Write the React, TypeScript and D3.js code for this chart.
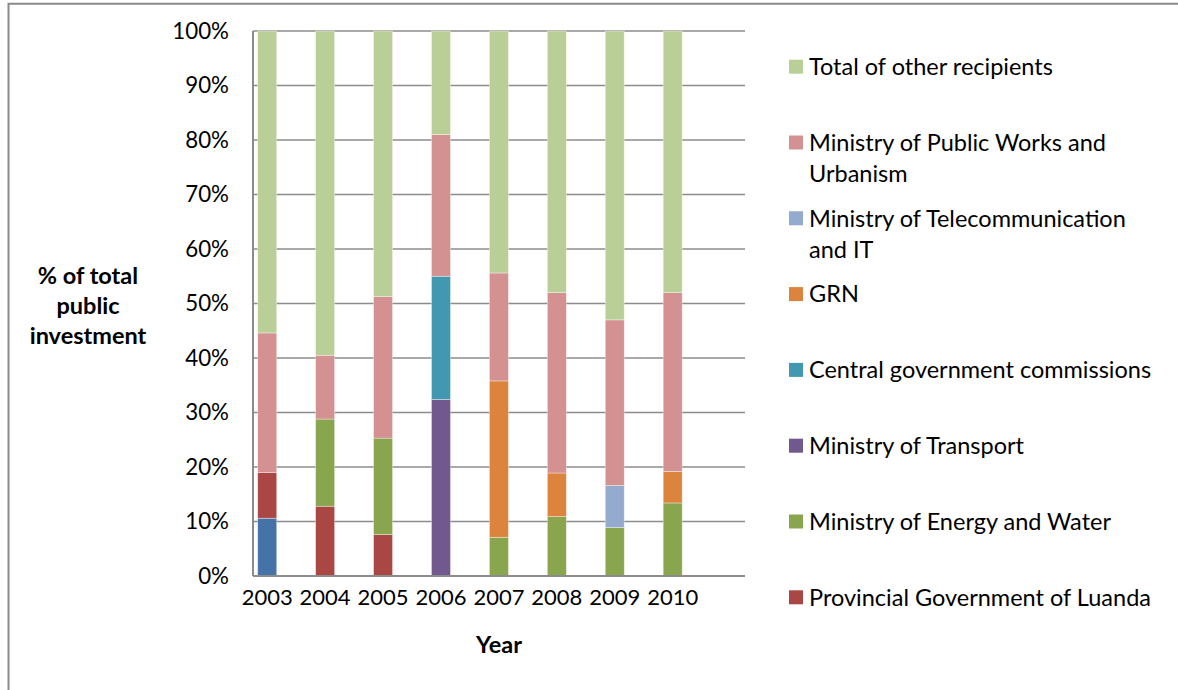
import React from 'react';
import * as d3 from 'd3';

const years = ['2003', '2004', '2005', '2006', '2007', '2008', '2009', '2010'];

// stacking order, bottom to top
const seriesNames = [
  'Unlisted recipient',
  'Provincial Government of Luanda',
  'Ministry of Energy and Water',
  'Ministry of Transport',
  'Central government commissions',
  'GRN',
  'Ministry of Telecommunication and IT',
  'Ministry of Public Works and Urbanism',
  'Total of other recipients',
];

const unlisted = [10.6, 0, 0, 0, 0, 0, 0, 0];
const luanda = [8.4, 12.8, 7.6, 0, 0, 0, 0, 0];
const energyWater = [0, 16.0, 17.7, 0, 7.1, 10.9, 8.9, 13.4];
const transport = [0, 0, 0, 32.4, 0, 0, 0, 0];
const centralGov = [0, 0, 0, 22.6, 0, 0, 0, 0];
const grn = [0, 0, 0, 0, 28.7, 8.0, 0, 5.8];
const telecom = [0, 0, 0, 0, 0, 0, 7.7, 0];
const publicWorks = [25.6, 11.7, 26.0, 26.0, 19.8, 33.1, 30.4, 32.8];
const otherRecipients = [55.4, 59.5, 48.7, 19.0, 44.4, 48.0, 53.0, 48.0];

const seriesColors = ['#4572A7', '#AA4643', '#89A54E', '#71588F', '#4298B0', '#DC843D', '#95AACF', '#D39191', '#BACF97'];

// legend, top to bottom (the unlisted series has no entry)
const legendItems: { lines: string[]; key: number }[] = [
  { lines: ['Total of other recipients'], key: 8 },
  { lines: ['Ministry of Public Works and', 'Urbanism'], key: 7 },
  { lines: ['Ministry of Telecommunication', 'and IT'], key: 6 },
  { lines: ['GRN'], key: 5 },
  { lines: ['Central government commissions'], key: 4 },
  { lines: ['Ministry of Transport'], key: 3 },
  { lines: ['Ministry of Energy and Water'], key: 2 },
  { lines: ['Provincial Government of Luanda'], key: 1 },
];

const yTicks = [0, 10, 20, 30, 40, 50, 60, 70, 80, 90, 100];

const W = 1178;
const H = 690;
const FONT = 'Lato, "Noto Sans", sans-serif';

export default function App() {
  const allSeries = [unlisted, luanda, energyWater, transport, centralGov, grn, telecom, publicWorks, otherRecipients];
  const rows = years.map((y, i) => {
    const r: Record<string, number | string> = { year: y };
    seriesNames.forEach((n, s) => { r[n] = allSeries[s][i]; });
    return r;
  });
  const stacked = d3.stack<Record<string, number | string>>().keys(seriesNames)(rows as any);

  const plot = { left: 253, right: 745, top: 31, bottom: 576 };
  const x = d3.scalePoint<string>().domain(years).range([267.2, 672.7]);
  const y = d3.scaleLinear().domain([0, 100]).range([plot.bottom, plot.top]);
  const barW = 19;

  const legendY = d3.scalePoint<number>().domain(d3.range(legendItems.length)).range([66.7, 597.3]);

  return (
    <svg width={W} height={H} style={{ position: 'absolute', left: 0, top: 0 }} fontFamily={FONT}>
      <rect x={0} y={0} width={W} height={H} fill="#fff" />
      <path d={`M8.5,${H} V3.8 H${W}`} fill="none" stroke="#8a8a8a" strokeWidth={2} />

      {/* gridlines */}
      {yTicks.map(t => (
        <line key={t} x1={plot.left} x2={plot.right} y1={y(t)} y2={y(t)} stroke="#8c8c8c" strokeWidth={1.5} />
      ))}

      {/* bars */}
      {stacked.map((layer, s) => (
        <g key={layer.key} fill={seriesColors[s]}>
          {layer.map((d, i) => {
            const h = y(d[0]) - y(d[1]);
            if (h <= 0.01) return null;
            return (
              <rect key={i} x={(x(years[i]) as number) - barW / 2} y={y(d[1])} width={barW} height={h}
                stroke="#ffffff" strokeOpacity={0.45} strokeWidth={0.8} />
            );
          })}
        </g>
      ))}

      {/* axes */}
      <line x1={plot.left} x2={plot.left} y1={plot.top} y2={plot.bottom} stroke="#8c8c8c" strokeWidth={2} />
      <line x1={plot.left} x2={plot.right} y1={plot.bottom} y2={plot.bottom} stroke="#8c8c8c" strokeWidth={2} />

      {yTicks.map(t => (
        <text key={t} x={229} y={y(t)} dy="0.35em" textAnchor="end" fontSize={22.3} fill="#000">{`${t}%`}</text>
      ))}
      {years.map(yr => (
        <text key={yr} x={x(yr)} y={597} dy="0.35em" textAnchor="middle" fontSize={22} fill="#000">{yr}</text>
      ))}

      <text x={499} y={645} dy="0.35em" textAnchor="middle" fontSize={23.5} fontWeight="bold" fill="#000">Year</text>
      {['% of total', 'public', 'investment'].map((l, i) => (
        <text key={l} x={88} y={276 + i * 30} dy="0.35em" textAnchor="middle" fontSize={23.5} fontWeight="bold" fill="#000">{l}</text>
      ))}

      {/* legend */}
      {legendItems.map((it, i) => {
        const cy = legendY(i) as number;
        return (
          <g key={it.key}>
            <rect x={789} y={cy - 7} width={14} height={14} fill={seriesColors[it.key]} />
            {it.lines.map((l, j) => (
              <text key={j} x={809} y={cy + j * 31.5} dy="0.35em" fontSize={23.5} fill="#000">{l}</text>
            ))}
          </g>
        );
      })}
    </svg>
  );
}
